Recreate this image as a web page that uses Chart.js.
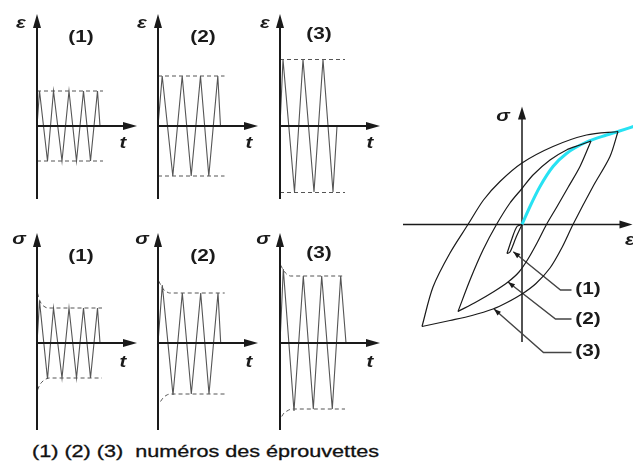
<!DOCTYPE html>
<html>
<head>
<meta charset="utf-8">
<script src="https://cdn.jsdelivr.net/npm/chart.js@4.4.0/dist/chart.umd.min.js"></script>
<style>
  html, body { margin: 0; padding: 0; background: #fff; }
  #board { position: relative; width: 633px; height: 475px; overflow: hidden; background: #fff; }
  #board canvas { position: absolute; }
  #caption {
    position: absolute; left: 32px; top: 443px;
    font: 16px "Liberation Sans", Arial, sans-serif; color: #111;
    white-space: pre; transform: scaleX(1.35); transform-origin: 0 0;
    -webkit-text-stroke: 0.3px #111;
  }
</style>
</head>
<body>
<div id="board">
  <div id="caption">(1) (2) (3)  numéros des éprouvettes</div>
</div>
<script>
// specimen tags
const TAGS = ['(1)', '(2)', '(3)'];

// imposed strain, one history per specimen (t, eps)
const T_EPS_1 = [0, 0.25, 1.05, 1.65, 2.5, 3.2, 3.95, 4.65, 5.35, 6.05, 6.3];
const EPS_1   = [0, 3.5, -3.5, 3.5, -3.5, 3.5, -3.5, 3.5, -3.5, 3.5, 0];
const T_EPS_2 = [0, 0.42, 1.48, 2.42, 3.32, 4.25, 5.08, 5.98, 6.25];
const EPS_2   = [0, 5, -5, 5, -5, 5, -5, 5, 0];
const T_EPS_3 = [0, 0.3, 1.45, 2.3, 3.4, 4.3, 5.3, 5.7];
const EPS_3   = [0, 6.65, -6.6, 6.65, -6.6, 6.65, -6.6, 0];
const EPS_AMP = [3.5, 5.0, 6.65];
const EPS_T_END = [6.6, 6.65, 6.5];

// resulting stress (cyclic softening towards a stabilised amplitude)
const T_SIG_1 = [0, 0.25, 1.05, 1.65, 2.5, 3.2, 3.95, 4.65, 5.35, 6.05, 6.3];
const SIG_1   = [0, 4.2, -3.6, 3.5, -3.5, 3.5, -3.5, 3.5, -3.5, 3.5, 0];
const T_SIG_2 = [0, 0.43, 1.5, 2.43, 3.33, 4.27, 5.1, 6.0, 6.27];
const SIG_2   = [0, 5.8, -5.2, 5.0, -5.1, 5.0, -5.1, 5.0, 0];
const T_SIG_3 = [0, 0.33, 1.4, 2.33, 3.33, 4.17, 5.23, 6.07, 6.6];
const SIG_3   = [0, 7.4, -6.8, 6.7, -6.6, 6.7, -6.6, 6.7, 0];

// peak envelopes (upper / lower)
const T_ENV_UP_1 = [0.05, 0.25, 0.5, 0.8, 1.1, 6.5];
const ENV_UP_1   = [5.0, 4.3, 3.85, 3.6, 3.5, 3.5];
const T_ENV_LO_1 = [0.05, 0.3, 0.6, 0.9, 1.2, 6.5];
const ENV_LO_1   = [-4.7, -4.15, -3.8, -3.6, -3.5, -3.5];
const T_ENV_UP_2 = [0.07, 0.3, 0.6, 0.9, 1.15, 6.67];
const ENV_UP_2   = [6.2, 5.75, 5.3, 5.1, 5.0, 5.0];
const T_ENV_LO_2 = [0.25, 0.5, 0.8, 1.1, 1.4, 6.67];
const ENV_LO_2   = [-5.85, -5.5, -5.25, -5.12, -5.1, -5.1];
const T_ENV_UP_3 = [0.05, 0.3, 0.55, 0.8, 1.05, 6.5];
const ENV_UP_3   = [7.8, 7.35, 7.0, 6.8, 6.7, 6.7];
const T_ENV_LO_3 = [0.17, 0.4, 0.7, 1.0, 1.3, 6.5];
const ENV_LO_3   = [-7.35, -7.0, -6.8, -6.65, -6.6, -6.6];

// stabilised hysteresis loops (eps, sigma), upper and lower branches
const LOOP3_UP_E = [-10.0, -8.9, -7.2, -5.4, -3.85, -2.2, 0, 3.1, 6.45, 9.6];
const LOOP3_UP_S = [-10.2, -6.25, -2.85, 0, 2.45, 4.3, 6.15, 7.8, 8.95, 9.3];
const LOOP3_LO_E = [9.6, 8.8, 7.1, 5.1, 4.0, 2.8, 1.4, 0, -1.5, -2.9, -5.0, -7.2, -10.0];
const LOOP3_LO_S = [9.3, 6.8, 3.8, 0, -2.3, -4.35, -5.9, -6.95, -7.8, -8.45, -9.1, -9.6, -10.2];
const LOOP2_UP_E = [-6.4, -5.2, -3.9, -2.55, -1.2, 0, 1.1, 2.8, 4.45, 5.8, 6.9];
const LOOP2_UP_S = [-8.7, -5.55, -2.55, 0, 2.15, 3.6, 4.95, 6.45, 7.45, 7.95, 8.35];
const LOOP2_LO_E = [6.9, 5.8, 4.6, 3.45, 2.45, 1.5, 0.6, -0.3, -1.4, -2.8, -4.5, -6.4];
const LOOP2_LO_S = [8.35, 5.8, 3.7, 1.7, 0, -1.85, -3.45, -4.75, -5.75, -6.7, -7.7, -8.7];
const LOOP1_UP_E = [0, -0.5, -1.0, -1.5];
const LOOP1_UP_S = [0, -0.2, -1.4, -2.9];
const LOOP1_LO_E = [-1.5, -1.2, -0.6, 0];
const LOOP1_LO_S = [-2.9, -2.75, -1.3, 0];

// cyclic stress-strain curve through the loop tips
const CYCLIC_E = [0, 0.8, 1.8, 3.1, 4.45, 6.45, 8.45, 9.6, 11.3];
const CYCLIC_S = [0, 1.8, 3.8, 5.8, 7.1, 8.25, 8.95, 9.3, 9.85];

// leader lines for the loop tags: tip on the loop, elbow, end
const LEAD1_E = [-0.87, 3.85, 4.95];
const LEAD1_S = [-2.72, -6.55, -6.55];
const LEAD2_E = [-1.4, 3.35, 4.95];
const LEAD2_S = [-5.75, -9.45, -9.45];
const LEAD3_E = [-2.8, 2.15, 4.95];
const LEAD3_S = [-8.45, -12.8, -12.8];

const INK = '#1a1a1a';
const WAVE = '#555';
const CYAN = '#27e2f3';
const TAG_FONT = 'bold 16px "Liberation Sans", Arial, sans-serif';
const SYM_FONT = 'italic bold 17px "Liberation Sans", Arial, sans-serif';

const board = document.getElementById('board');

function pts(xs, ys) { return xs.map((x, i) => ({ x, y: ys[i] })); }

function line(xs, ys, o = {}) {
  return Object.assign({
    data: pts(xs, ys), showLine: true, pointRadius: 0, fill: false,
    borderColor: WAVE, borderWidth: 1.1, tension: 0, clip: false
  }, o);
}

function dashed(xs, ys) {
  return line(xs, ys, { borderDash: [4, 3], borderWidth: 1, cubicInterpolationMode: 'monotone' });
}

function arrow(ctx, x0, y0, x1, y1, len, half) {
  const a = Math.atan2(y1 - y0, x1 - x0);
  const bx = x1 - len * Math.cos(a), by = y1 - len * Math.sin(a);
  ctx.beginPath(); ctx.moveTo(x0, y0); ctx.lineTo(bx + Math.cos(a), by + Math.sin(a)); ctx.stroke();
  ctx.beginPath();
  ctx.moveTo(x1, y1);
  ctx.lineTo(bx - half * Math.sin(a), by + half * Math.cos(a));
  ctx.lineTo(bx + half * Math.sin(a), by - half * Math.cos(a));
  ctx.closePath(); ctx.fill();
}

function label(ctx, text, x, y, font, sx) {
  ctx.save();
  ctx.translate(x, y); ctx.scale(sx, 1);
  ctx.font = font; ctx.textAlign = 'center'; ctx.textBaseline = 'middle';
  ctx.fillText(text, 0, 0);
  ctx.restore();
}

// axes with arrow heads + text, placed in data units of the chart
function sketchPlugin(d) {
  const drawAxes = (chart) => {
    const { ctx, scales: { x, y } } = chart;
    ctx.save();
    ctx.strokeStyle = INK; ctx.fillStyle = INK; ctx.lineWidth = d.axisWidth;
    arrow(ctx, x.getPixelForValue(d.xAxis[0]), y.getPixelForValue(0),
               x.getPixelForValue(d.xAxis[1]), y.getPixelForValue(0), d.head[0], d.head[1]);
    arrow(ctx, x.getPixelForValue(0), y.getPixelForValue(d.yAxis[0]),
               x.getPixelForValue(0), y.getPixelForValue(d.yAxis[1]), d.head[0], d.head[1]);
    ctx.restore();
  };
  const drawText = (chart) => {
    const { ctx, scales: { x, y } } = chart;
    ctx.save();
    ctx.fillStyle = INK;
    (d.labels || []).forEach(l =>
      label(ctx, l.text, x.getPixelForValue(l.x), y.getPixelForValue(l.y), l.font, l.sx || 1.2));
    // arrow heads at the start of each leader dataset
    (d.leaders || []).forEach(i => {
      const p = chart.getDatasetMeta(i).data;
      const x0 = p[1].x, y0 = p[1].y, x1 = p[0].x, y1 = p[0].y;
      const a = Math.atan2(y1 - y0, x1 - x0);
      ctx.beginPath();
      ctx.moveTo(x1, y1);
      ctx.lineTo(x1 - 7 * Math.cos(a) - 2.6 * Math.sin(a), y1 - 7 * Math.sin(a) + 2.6 * Math.cos(a));
      ctx.lineTo(x1 - 7 * Math.cos(a) + 2.6 * Math.sin(a), y1 - 7 * Math.sin(a) - 2.6 * Math.cos(a));
      ctx.closePath(); ctx.fill();
    });
    ctx.restore();
  };
  return {
    id: 'sketch',
    beforeDatasetsDraw(chart) { if (d.axesUnder) drawAxes(chart); },
    afterDatasetsDraw(chart) { if (!d.axesUnder) drawAxes(chart); drawText(chart); }
  };
}

function mount(box, xr, yr, datasets, deco) {
  const cv = document.createElement('canvas');
  cv.width = box.w; cv.height = box.h;
  Object.assign(cv.style, { left: box.x + 'px', top: box.y + 'px', width: box.w + 'px', height: box.h + 'px' });
  board.appendChild(cv);
  return new Chart(cv.getContext('2d'), {
    type: 'scatter',
    data: { datasets },
    options: {
      responsive: false, animation: false, devicePixelRatio: 1, events: [],
      layout: { padding: 0 },
      scales: {
        x: { type: 'linear', min: xr[0], max: xr[1], display: false },
        y: { type: 'linear', min: yr[0], max: yr[1], display: false }
      },
      plugins: { legend: { display: false }, tooltip: { enabled: false } }
    },
    plugins: [sketchPlugin(deco)]
  });
}

// ---- time histories: strain on top row, stress below ----
const ORIGIN_X = [37, 158, 280];
const epsRuns = [[T_EPS_1, EPS_1], [T_EPS_2, EPS_2], [T_EPS_3, EPS_3]];
const sigRuns = [[T_SIG_1, SIG_1], [T_SIG_2, SIG_2], [T_SIG_3, SIG_3]];
const envelopes = [
  [T_ENV_UP_1, ENV_UP_1, T_ENV_LO_1, ENV_LO_1],
  [T_ENV_UP_2, ENV_UP_2, T_ENV_LO_2, ENV_LO_2],
  [T_ENV_UP_3, ENV_UP_3, T_ENV_LO_3, ENV_LO_3]
];
const tagPos = [[4.4, 4.5, 3.9], [8.8, 8.8, 9.1], [8.6, 8.6, 8.9]];
const symX = [[-1.6, -1.6, -1.5], [-1.8, -1.6, -1.7]];
const tX = [8.6, 9.1, 9.0];

ORIGIN_X.forEach((ox, i) => {
  const amp = EPS_AMP[i], tEnd = EPS_T_END[i];
  mount({ x: ox - 30, y: 0, w: 150, h: 210 }, [-3, 12], [-8.4, 12.6], [
    dashed([0, tEnd], [amp, amp]),
    dashed([0, tEnd], [-amp, -amp]),
    line(epsRuns[i][0], epsRuns[i][1])
  ], {
    axisWidth: 2, head: [14, 4], xAxis: [0, 10], yAxis: [-7.3, 11.2],
    labels: [
      { text: 'ε', x: symX[0][i], y: 10.3, font: SYM_FONT },
      { text: TAGS[i], x: tagPos[0][i], y: tagPos[1][i], font: TAG_FONT, sx: 1.3 },
      { text: 't', x: tX[i], y: -1.7, font: SYM_FONT }
    ]
  });

  const env = envelopes[i];
  mount({ x: ox - 30, y: 220, w: 150, h: 215 }, [-3, 12], [-9.2, 12.3], [
    dashed(env[0], env[1]),
    dashed(env[2], env[3]),
    line(sigRuns[i][0], sigRuns[i][1])
  ], {
    axisWidth: 2, head: [14, 4], xAxis: [0, 10], yAxis: [-8.7, 11.0],
    labels: [
      { text: 'σ', x: symX[1][i], y: 10.4, font: SYM_FONT },
      { text: TAGS[i], x: tagPos[0][i], y: tagPos[2][i], font: TAG_FONT, sx: 1.3 },
      { text: 't', x: tX[i], y: -1.9, font: SYM_FONT }
    ]
  });
});

// ---- stabilised loops in the (eps, sigma) plane ----
const loopStyle = { borderColor: INK, borderWidth: 1.2, tension: 0.3 };
const leadStyle = { borderColor: '#444', borderWidth: 1.4, tension: 0 };
mount({ x: 400, y: 100, w: 233, h: 260 }, [-12.2, 11.1], [-13.55, 12.45], [
  line(LOOP3_UP_E, LOOP3_UP_S, loopStyle),
  line(LOOP3_LO_E, LOOP3_LO_S, loopStyle),
  line(LOOP2_UP_E, LOOP2_UP_S, loopStyle),
  line(LOOP2_LO_E, LOOP2_LO_S, loopStyle),
  line(LOOP1_UP_E, LOOP1_UP_S, loopStyle),
  line(LOOP1_LO_E, LOOP1_LO_S, loopStyle),
  line(LEAD1_E, LEAD1_S, leadStyle),
  line(LEAD2_E, LEAD2_S, leadStyle),
  line(LEAD3_E, LEAD3_S, leadStyle),
  line(CYCLIC_E, CYCLIC_S, { borderColor: CYAN, borderWidth: 3, cubicInterpolationMode: 'monotone' })
], {
  axesUnder: true, axisWidth: 1.5, head: [13, 4], xAxis: [-11.9, 11.05], yAxis: [-11.75, 11.8],
  leaders: [6, 7, 8],
  labels: [
    { text: 'σ', x: -1.9, y: 10.85, font: SYM_FONT },
    { text: 'ε', x: 10.8, y: -1.55, font: SYM_FONT },
    { text: TAGS[0], x: 6.6, y: -6.55, font: TAG_FONT, sx: 1.3 },
    { text: TAGS[1], x: 6.6, y: -9.5, font: TAG_FONT, sx: 1.3 },
    { text: TAGS[2], x: 6.6, y: -12.75, font: TAG_FONT, sx: 1.3 }
  ]
});
</script>
</body>
</html>
